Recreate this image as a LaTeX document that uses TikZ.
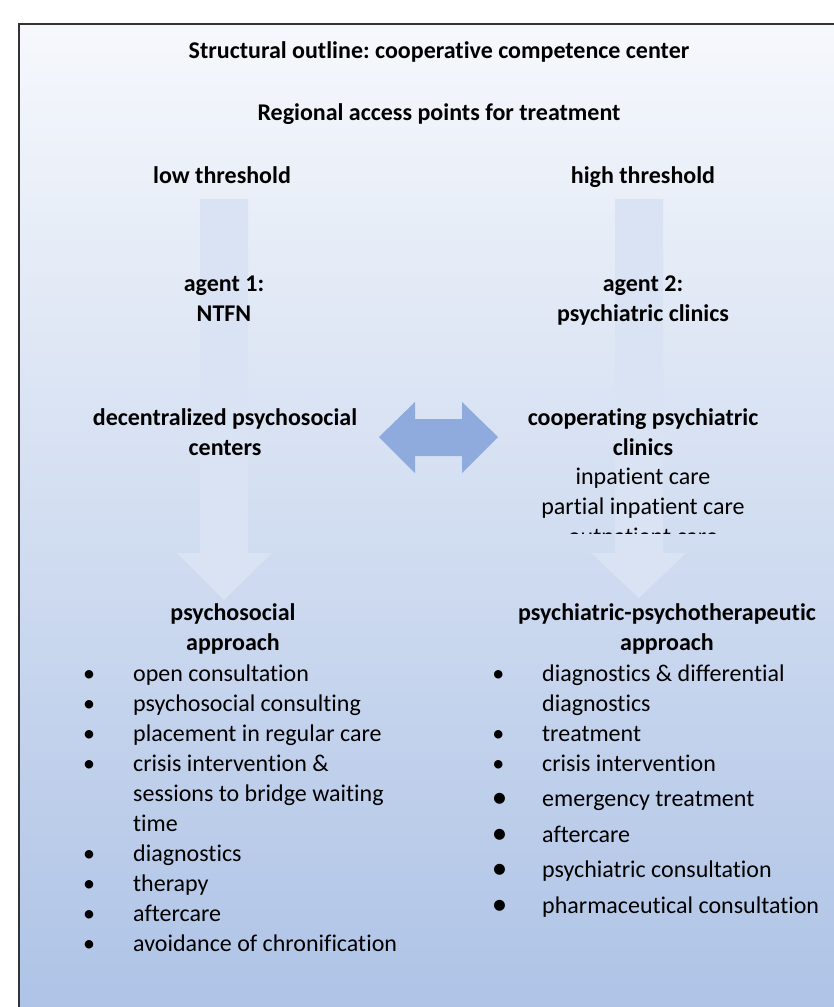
\documentclass[tikz,border=0pt]{standalone}
\usepackage{fontspec}
\setmainfont{Carlito}[Ligatures=NoCommon]
\frenchspacing
\definecolor{bgtop}{RGB}{246,248,252}
\definecolor{bgbot}{RGB}{174,195,230}
\definecolor{pale}{RGB}{218,227,243}
\definecolor{link}{RGB}{143,170,220}
\tikzset{hd/.style={font=\bfseries\fontsize{24}{30}\selectfont,align=center,inner sep=0pt,anchor=base},
  txt/.style={font=\fontsize{24}{30}\selectfont,inner sep=0pt,anchor=base}}
\newcommand{\itm}[1]{\llap{\textbullet\hspace{38pt}}#1}
\newcommand{\bigitm}[1]{\llap{\raisebox{-1pt}{\fontsize{31}{31}\selectfont\textbullet}\hspace{35pt}}#1}

\begin{document}
\begin{tikzpicture}[x=1pt,y=-1pt]
    \useasboundingbox (0,0) rectangle (834,1007);
    % background panel
    \shade[top color=bgtop,bottom color=bgbot] (19,24) rectangle (840,1012);
    \draw[line width=1.5pt,black!80] (19,1012) -- (19,24) -- (840,24);

    % block arrows
    \fill[pale] (200,199) -- (248,199) -- (248,553) -- (272,553) -- (224,600) -- (177,553) -- (200,553) -- cycle;
    \fill[pale] (615,199) -- (663,199) -- (663,553) -- (686,553) -- (639,598) -- (591,553) -- (615,553) -- cycle;
    \fill[link] (379,437) -- (415,402) -- (415,419) -- (462,419) -- (462,402) -- (498,437)
        -- (462,473) -- (462,456) -- (415,456) -- (415,473) -- cycle;

    % multi-line nodes sit on their last baseline
    \node[hd] (a) at (439,58) {Structural outline: cooperative competence center};
    \node[hd] (b) at (439,120) {Regional access points for treatment};
    \node[hd] (c) at (222,183) {low threshold};
    \node[hd] (d) at (643,183) {high threshold};
    \node[hd] (e) at (224,321) {agent 1:\\NTFN};
    \node[hd] (f) at (643,321) {agent 2:\\psychiatric clinics};
    \node[hd] (g) at (225,455) {decentralized psychosocial\\centers};
    \node[hd] (h) at (643,455) {cooperating psychiatric\\clinics};
    \node[txt] (i) at (643,484) {inpatient care};
    \node[txt] (j) at (643,514) {partial inpatient care};
    \begin{scope}
        \clip (500,520) rectangle (800,533);
        \node[txt] (k) at (643,544) {outpatient care};
    \end{scope}

    \node[hd] (l) at (233,650) {psychosocial\\approach};
    \node[hd] (m) at (667,650) {psychiatric-psychotherapeutic\\approach};

    \node[txt,align=left,anchor=base west] (n) at (133,951) {\itm{open consultation}\\
        \itm{psychosocial consulting}\\
        \itm{placement in regular care}\\
        \itm{crisis intervention \&}\\
        sessions to bridge waiting\\
        time\\
        \itm{diagnostics}\\
        \itm{therapy}\\
        \itm{aftercare}\\
        \itm{avoidance of chronification}};
    \node[txt,align=left,anchor=base west] (o) at (542,913) {\itm{diagnostics \& differential}\\
        diagnostics\\
        \itm{treatment}\\
        \itm{crisis intervention}\\[5.5pt]
        \bigitm{emergency treatment}\\[5.5pt]
        \bigitm{aftercare}\\[5.5pt]
        \bigitm{psychiatric consultation}\\[5.5pt]
        \bigitm{pharmaceutical consultation}};
\end{tikzpicture}
\end{document}
